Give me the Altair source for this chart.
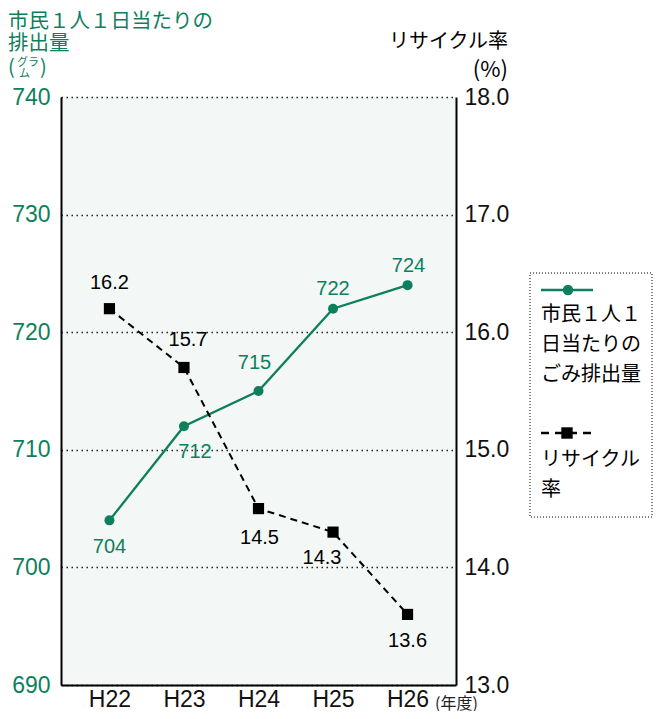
import altair as alt
import pandas as pd

# ---- data ----
years = ["H22", "H23", "H24", "H25", "H26"]
waste = [704, 712, 715, 722, 724]          # 市民1人1日当たりのごみ排出量 (g)
recycle = [16.2, 15.7, 14.5, 14.3, 13.6]   # リサイクル率 (%)
waste_ticks = [690, 700, 710, 720, 730, 740]
recycle_ticks = [13.0, 14.0, 15.0, 16.0, 17.0, 18.0]

GREEN = "#0e7f5d"
BG = "#f3f7f5"
JP = "Noto Sans CJK JP"
NUM = "Liberation Sans"

df = pd.DataFrame({"year": years, "waste": waste, "recycle": recycle})
one = pd.DataFrame({"a": [0]})

W, H = 395, 588

xenc = alt.X(
    "year:N", sort=years,
    scale=alt.Scale(type="point", padding=0.65),
    axis=alt.Axis(title=None, labelFont=NUM, labelFontSize=23, labelColor="#111",
                  labelPadding=3, ticks=False, domainColor="black", domainWidth=2,
                  grid=False, labelAngle=0),
)

y_waste = alt.Y(
    "waste:Q",
    scale=alt.Scale(domain=[690, 740], nice=False, zero=False),
    axis=alt.Axis(orient="left", title=None, values=waste_ticks, labelFont=NUM,
                  labelFontSize=23, labelColor=GREEN, labelPadding=11, ticks=False,
                  domainColor="black", domainWidth=2, grid=True, gridColor="#222",
                  gridDash=[1.5, 3.5], gridWidth=1.3),
)
y_rec = alt.Y(
    "recycle:Q",
    scale=alt.Scale(domain=[13, 18], nice=False, zero=False),
    axis=alt.Axis(orient="right", title=None, values=recycle_ticks, format=".1f",
                  labelFont=NUM, labelFontSize=23, labelColor="#111", labelPadding=8,
                  ticks=False, domainColor="black", domainWidth=2, grid=False),
)

base = alt.Chart(df)


def label(field, yenc, year, color, dx, dy):
    return base.transform_filter(alt.datum.year == year).mark_text(
        font=NUM, fontSize=20, color=color, dx=dx, dy=dy, baseline="middle"
    ).encode(x=xenc, y=yenc, text=alt.Text(f"{field}:Q", format=".1f" if field == "recycle" else "d"))


waste_line = base.mark_line(color=GREEN, strokeWidth=2.3).encode(x=xenc, y=y_waste)
waste_pts = base.mark_point(shape="circle", filled=True, size=100, color=GREEN, opacity=1).encode(x=xenc, y=y_waste)
waste_offsets = {"H22": (0, 27), "H23": (11, 26), "H24": (-4, -28), "H25": (0, -20), "H26": (1, -19)}
waste_labels = [label("waste", y_waste, yr, GREEN, *waste_offsets[yr]) for yr in years]
waste_layer = alt.layer(waste_line, waste_pts, *waste_labels)

rec_line = base.mark_line(color="black", strokeWidth=2, strokeDash=[7, 5]).encode(x=xenc, y=y_rec)
rec_pts = base.mark_point(shape="square", filled=True, size=125, color="black", opacity=1).encode(x=xenc, y=y_rec)
rec_offsets = {"H22": (0, -26), "H23": (4, -27), "H24": (1, 29), "H25": (-11, 26), "H26": (0, 27)}
rec_labels = [label("recycle", y_rec, yr, "black", *rec_offsets[yr]) for yr in years]
rec_layer = alt.layer(rec_line, rec_pts, *rec_labels)

ann = alt.Chart(one)


def txt(s, x, y, size, color="black", align="left", font=JP, baseline="middle"):
    return ann.mark_text(text=s, font=font, fontSize=size, color=color, align=align,
                         baseline=baseline).encode(x=alt.value(x), y=alt.value(y))


# titles (plot origin at page x=61, y=97)
titles = [
    txt("市民１人１日当たりの", -53, -85, 20.5, GREEN, baseline="top"),
    txt("排出量", -53, -63, 20.5, GREEN, baseline="top"),
    txt("(", -53, -29, 20, GREEN),
    txt("グラ", -44, -34, 11, GREEN),
    txt("ム", -42, -23, 11, GREEN),
    txt(")", -21, -29, 20, GREEN),
    txt("リサイクル率", 447, -55, 20, "black", "right"),
    txt("(%)", 447, -27, 22, "black", "right"),
    txt("(年度)", 374, 607, 16, "#222", "left"),
]

# custom legend
legend = [
    ann.mark_rect(fillOpacity=0, stroke="black", strokeDash=[1, 2], strokeWidth=1).encode(
        x=alt.value(469), x2=alt.value(591), y=alt.value(176), y2=alt.value(420)),
    ann.mark_rule(color=GREEN, strokeWidth=2.5).encode(
        x=alt.value(480), x2=alt.value(532), y=alt.value(193)),
    ann.mark_point(shape="circle", filled=True, size=110, color=GREEN, opacity=1).encode(
        x=alt.value(507), y=alt.value(193)),
    txt("市民１人１", 480, 218, 20),
    txt("日当たりの", 480, 248, 20),
    txt("ごみ排出量", 480, 278, 20),
    ann.mark_rule(color="black", strokeWidth=2.5, strokeDash=[8, 6]).encode(
        x=alt.value(480), x2=alt.value(532), y=alt.value(336)),
    ann.mark_point(shape="square", filled=True, size=130, color="black", opacity=1).encode(
        x=alt.value(506), y=alt.value(336)),
    txt("リサイクル", 480, 363, 20),
    txt("率", 480, 393, 20),
]

chart = alt.layer(waste_layer, rec_layer, *titles, *legend).resolve_scale(
    y="independent"
).properties(
    width=W, height=H,
    autosize=alt.AutoSizeParams(type="none"),
    padding={"left": 53, "top": 89, "right": 197, "bottom": 26},
).configure_view(fill=BG, stroke=None)

chart.save("out.html", embed_options={"renderer": "svg", "actions": False})
